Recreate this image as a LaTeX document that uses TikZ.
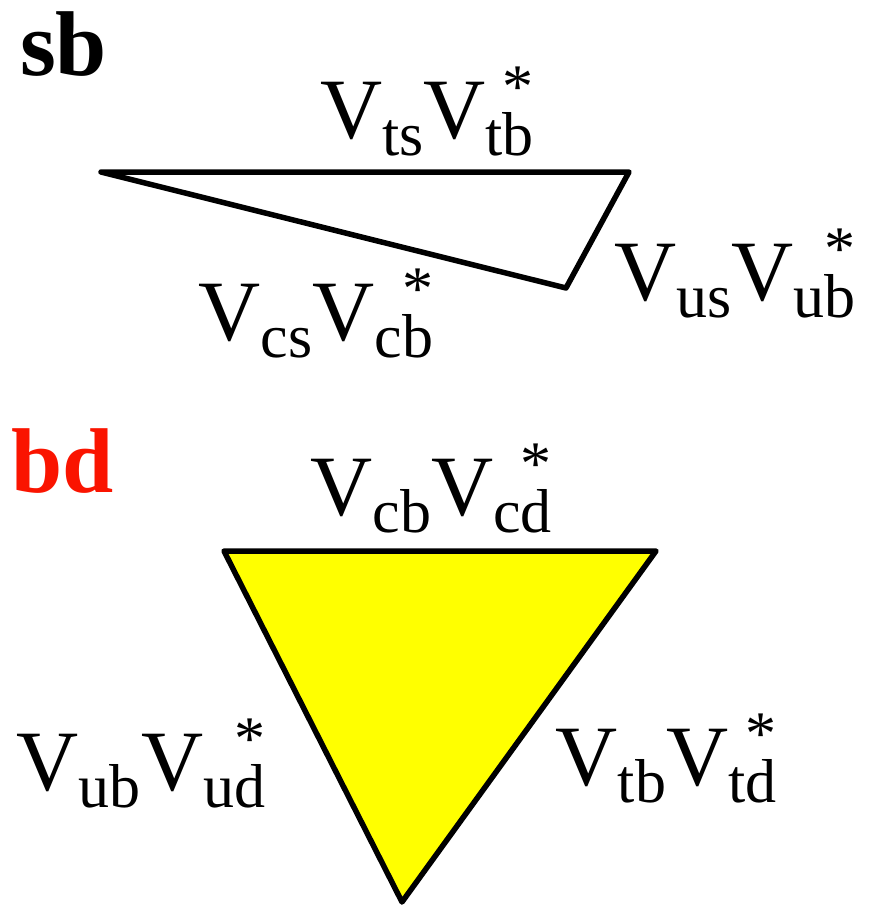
\documentclass[tikz,border=0pt]{standalone}
\usepackage{fontspec}
\setmainfont{Liberation Serif}
\usepackage{xcolor}
\usetikzlibrary{positioning}

\definecolor{triyellow}{RGB}{255,255,0}
\definecolor{tagred}{RGB}{250,20,0}
\newcommand{\subsize}{\fontsize{62}{70}\selectfont}
\newcommand{\ckmpair}[2]{V\raisebox{-17pt}{\subsize #1}V\raisebox{-17pt}{\subsize #2}\llap{\raisebox{31pt}{\subsize *}}}

\begin{document}
\begin{tikzpicture}[
  x=1pt, y=-1pt,
  ckm/.style={inner sep=0pt, anchor=base, font=\fontsize{86}{96}\selectfont},
  tag/.style={inner sep=0pt, anchor=base west, font=\fontsize{92}{100}\selectfont\bfseries},
  side/.style={line width=5.5pt, line join=round},
]
\useasboundingbox (0,0) rectangle (872,911);

% sb triangle
\node[tag] (sb) at (20,75) {sb};
\coordinate (sbL) at (101,172);
\coordinate (sbR) at (629,172);
\coordinate (sbB) at (566,288);
\draw[side] (sbL) -- (sbR) -- (sbB) -- cycle;
\node[ckm] (tstb) at (427,138) {\ckmpair{ts}{tb}};
\node[ckm] (usub) at (735,300) {\ckmpair{us}{ub}};
\node[ckm] (cscb) at (316,340) {\ckmpair{cs}{cb}};

% bd triangle
\node[tag, text=tagred] (bd) at (11,492) {bd};
\coordinate (bdL) at (224,551);
\coordinate (bdR) at (656,551);
\coordinate (bdB) at (402,902);
\draw[side, fill=triyellow] (bdL) -- (bdR) -- (bdB) -- cycle;
\node[ckm] (cbcd) at (431,515) {\ckmpair{cb}{cd}};
\node[ckm] (ubud) at (141,790) {\ckmpair{ub}{ud}};
\node[ckm] (tbtd) at (666,785) {\ckmpair{tb}{td}};
\end{tikzpicture}
\end{document}
